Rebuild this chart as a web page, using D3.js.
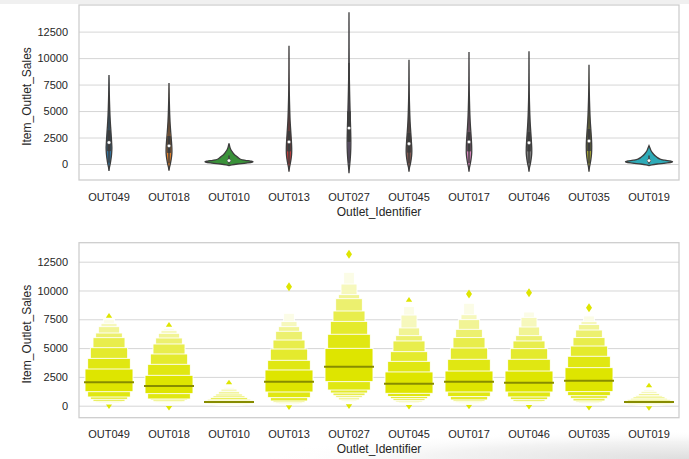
<!DOCTYPE html>
<html>
<head>
<meta charset="utf-8">
<script src="https://cdn.jsdelivr.net/npm/d3@7"></script>
<style>
  body { margin: 0; background: #fff; }
  svg { display: block; font-family: "Liberation Sans", Arial, sans-serif; }
</style>
</head>
<body>
<div id="chart"></div>
<script>
// values
var categories = ["OUT049", "OUT018", "OUT010", "OUT013", "OUT027", "OUT045", "OUT017", "OUT046", "OUT035", "OUT019"];
var yTicks = [0, 2500, 5000, 7500, 10000, 12500];

var medians = [2030, 1712, 320, 2088, 3390, 1914, 2088, 2001, 2174, 320];

// letter values, level 1 (quartiles) first
var lvUpper = [
  [3185, 4110, 5035, 5905, 6310, 6860, 7150, 7526],
  [2637, 3592, 4489, 5357, 5878, 6283, 6543, 6716],
  [440, 555, 700, 845, 1015, 1220, 1450, 1600],
  [3100, 3940, 4920, 5700, 6460, 6860, 7300, 8020],
  [4980, 6200, 7320, 8220, 9290, 9640, 10560, 11580],
  [2930, 3850, 4690, 5620, 6080, 6750, 7870, 8600],
  [3010, 4030, 5010, 5910, 6630, 7470, 7900, 8890],
  [3010, 4030, 4950, 5620, 6080, 6830, 7670, 8130],
  [3300, 4290, 5180, 5910, 6570, 7040, 7320, 7790],
  [420, 520, 640, 760, 870, 1050, 1250, 1420]
];
var lvLower = [
  [1215, 755, 555, 380, 300, 240, 190, 150],
  [1046, 583, 496, 352, 280, 220, 170, 130],
  [200, 150, 110, 80, 60, 45, 40, 35],
  [1190, 700, 410, 300, 220, 160, 120, 90],
  [2088, 1360, 1100, 870, 700, 500, 400, 300],
  [1075, 790, 610, 440, 330, 250, 190, 140],
  [1190, 790, 500, 380, 290, 220, 170, 130],
  [1190, 760, 525, 380, 280, 210, 160, 120],
  [1220, 870, 640, 410, 310, 230, 170, 130],
  [180, 130, 100, 80, 60, 50, 40, 35]
];

var whiskerHi = [6500, 5100, 800, 5970, 9540, 5800, 5900, 5750, 6300, 800];
var dataMin = [111, 69, 33, 35, 100, 63, 92, 63, 40, 33];

var topEnds = [7642, 6861, 1856, null, null, 9030, null, null, null, 1596];
var lowEnds = [120, -20, null, 34, 120, 63, 92, 63, -20, -40];
var outliers = [[], [], [], [10333], [13139], [], [9696], [9812], [8510], []];

// violin outlines: [sales, relative half width]
var violinOUT049 = [[-650, 0], [-300, 0.02], [0, 0.05], [500, 0.085], [1000, 0.11], [1500, 0.12], [2000, 0.11], [2500, 0.097], [3000, 0.083], [3500, 0.068], [4000, 0.053], [5000, 0.033], [6000, 0.019], [7000, 0.01], [8000, 0.004], [8400, 0]];
var violinOUT018 = [[-630, 0], [-300, 0.022], [0, 0.055], [500, 0.095], [1000, 0.12], [1500, 0.12], [2000, 0.107], [2500, 0.09], [3000, 0.072], [3500, 0.056], [4000, 0.042], [5000, 0.024], [6000, 0.012], [7000, 0.005], [7640, 0]];
var violinOUT010 = [[-150, 0], [-80, 0.12], [0, 0.35], [80, 0.7], [170, 0.97], [220, 1.0], [280, 0.9], [350, 0.68], [450, 0.48], [600, 0.38], [750, 0.3], [900, 0.22], [1100, 0.15], [1300, 0.09], [1500, 0.05], [1700, 0.025], [1950, 0]];
var violinOUT013 = [[-730, 0], [-300, 0.022], [0, 0.05], [500, 0.088], [1000, 0.11], [1500, 0.112], [2000, 0.103], [2500, 0.09], [3000, 0.076], [3500, 0.062], [4000, 0.048], [5000, 0.031], [6000, 0.019], [7000, 0.011], [8000, 0.007], [9000, 0.004], [10000, 0.003], [11170, 0]];
var violinOUT027 = [[-880, 0], [-400, 0.015], [0, 0.033], [500, 0.052], [1000, 0.066], [1500, 0.074], [2000, 0.077], [2500, 0.075], [3000, 0.071], [3500, 0.065], [4000, 0.058], [5000, 0.045], [6000, 0.033], [7000, 0.023], [8000, 0.015], [9000, 0.01], [10000, 0.006], [11000, 0.004], [12000, 0.003], [13000, 0.002], [14330, 0]];
var violinOUT045 = [[-730, 0], [-300, 0.023], [0, 0.056], [500, 0.094], [1000, 0.116], [1500, 0.116], [2000, 0.103], [2500, 0.089], [3000, 0.073], [3500, 0.058], [4000, 0.045], [5000, 0.028], [6000, 0.016], [7000, 0.009], [8000, 0.005], [9000, 0.003], [9850, 0]];
var violinOUT017 = [[-730, 0], [-300, 0.022], [0, 0.052], [500, 0.089], [1000, 0.112], [1500, 0.113], [2000, 0.105], [2500, 0.092], [3000, 0.077], [3500, 0.062], [4000, 0.049], [5000, 0.031], [6000, 0.019], [7000, 0.011], [8000, 0.006], [9000, 0.004], [10580, 0]];
var violinOUT046 = [[-730, 0], [-300, 0.023], [0, 0.054], [500, 0.091], [1000, 0.114], [1500, 0.114], [2000, 0.103], [2500, 0.09], [3000, 0.075], [3500, 0.06], [4000, 0.047], [5000, 0.029], [6000, 0.017], [7000, 0.01], [8000, 0.006], [9000, 0.004], [10000, 0.002], [10640, 0]];
var violinOUT035 = [[-730, 0], [-300, 0.02], [0, 0.047], [500, 0.083], [1000, 0.106], [1500, 0.113], [2000, 0.11], [2500, 0.099], [3000, 0.085], [3500, 0.069], [4000, 0.054], [5000, 0.034], [6000, 0.02], [7000, 0.011], [8000, 0.005], [9380, 0]];
var violinOUT019 = [[-150, 0], [-80, 0.12], [0, 0.34], [80, 0.68], [170, 0.95], [230, 0.98], [290, 0.88], [360, 0.66], [460, 0.46], [600, 0.35], [750, 0.27], [900, 0.2], [1100, 0.13], [1300, 0.075], [1500, 0.04], [1730, 0]];

var violins = [violinOUT049, violinOUT018, violinOUT010, violinOUT013, violinOUT027,
  violinOUT045, violinOUT017, violinOUT046, violinOUT035, violinOUT019];

var palette = ["#3274a1", "#e1812c", "#3a923a", "#c03d3e", "#9372b2", "#845b53", "#d684bd", "#7f7f7f", "#a9aa35", "#2eabb8"];
var gray = "#3d3d3d";
var yellow = "#dee500";

var svgWidth = 689;
var svgHeight = 459;

var svg = d3.select("#chart")
  .append("svg")
  .attr("width", svgWidth)
  .attr("height", svgHeight);

// notebook chrome: thin strip on top and a soft shadow bottom right
var defs = svg.append("defs");
var shade = defs.append("radialGradient")
  .attr("id", "shade")
  .attr("cx", "1").attr("cy", "1").attr("r", "1");
shade.append("stop").attr("offset", "0").attr("stop-color", "#dedede");
shade.append("stop").attr("offset", "0.6").attr("stop-color", "#f3f3f3");
shade.append("stop").attr("offset", "1").attr("stop-color", "#fff").attr("stop-opacity", 0);

svg.append("rect")
  .attr("x", 260).attr("y", 430)
  .attr("width", svgWidth - 260).attr("height", svgHeight - 430)
  .attr("fill", "url(#shade)");

svg.append("rect")
  .attr("x", 0).attr("y", 0)
  .attr("width", svgWidth).attr("height", 4)
  .attr("fill", "#f0f0f0");

var left = 79, right = 679;

var xBand = d3.scaleBand()
  .domain(categories)
  .range([left, right])
  .paddingInner(0)
  .paddingOuter(0);

function drawFrame(top, bottom, yScale, tickPad) {
  var g = svg.append("g");

  g.append("g")
    .attr("transform", `translate(${left}, 0)`)
    .call(d3.axisLeft(yScale).tickValues(yTicks).tickFormat(d3.format("d"))
      .tickSize(-(right - left)).tickPadding(11))
    .call(a => a.select(".domain").remove())
    .call(a => a.selectAll(".tick line").attr("stroke", "#d6d6d6").attr("stroke-width", 1))
    .call(a => a.selectAll(".tick text").attr("font-size", 11).attr("fill", "#262626"));

  g.append("g")
    .attr("transform", `translate(0, ${bottom})`)
    .call(d3.axisBottom(xBand).tickSize(0).tickPadding(tickPad))
    .call(a => a.select(".domain").remove())
    .call(a => a.selectAll(".tick text").attr("font-size", 11).attr("fill", "#262626"));

  g.append("rect")
    .attr("x", left).attr("y", top)
    .attr("width", right - left).attr("height", bottom - top)
    .attr("fill", "none")
    .attr("stroke", "#cccccc")
    .attr("stroke-width", 1.25);

  g.append("text")
    .attr("transform", `translate(27, ${(top + bottom) / 2 + 4}) rotate(-90)`)
    .attr("text-anchor", "middle")
    .attr("dy", "0.35em")
    .attr("font-size", 12)
    .attr("fill", "#262626")
    .text("Item_Outlet_Sales");

  g.append("text")
    .attr("x", (left + right) / 2)
    .attr("y", bottom + 35.5)
    .attr("text-anchor", "middle")
    .attr("font-size", 12)
    .attr("fill", "#262626")
    .text("Outlet_Identifier");
}

// ---------- top: violin plot ----------
var yTop = d3.scaleLinear().domain([-1511, 15014]).range([180, 5]);
drawFrame(5, 180, yTop, 13);

var halfW = d3.scaleLinear().domain([0, 1]).range([0, xBand.bandwidth() * 0.4]);

var violinGroup = svg.append("g");

categories.forEach(function(cat, i) {
  var cx = xBand(cat) + xBand.bandwidth() / 2;

  var area = d3.area()
    .curve(d3.curveCatmullRom)
    .x0(d => cx - halfW(Math.max(0, d[1])))
    .x1(d => cx + halfW(Math.max(0, d[1])))
    .y(d => yTop(d[0]));

  violinGroup.append("path")
    .datum(violins[i])
    .attr("d", area)
    .attr("fill", palette[i])
    .attr("stroke", gray)
    .attr("stroke-width", 1.3);

  // whiskers
  violinGroup.append("line")
    .attr("x1", cx).attr("x2", cx)
    .attr("y1", yTop(dataMin[i])).attr("y2", yTop(whiskerHi[i]))
    .attr("stroke", gray)
    .attr("stroke-width", 1.4);

  // quartile box
  violinGroup.append("line")
    .attr("x1", cx).attr("x2", cx)
    .attr("y1", yTop(lvLower[i][0])).attr("y2", yTop(lvUpper[i][0]))
    .attr("stroke", gray)
    .attr("stroke-width", 3.6);

  violinGroup.append("circle")
    .attr("cx", cx)
    .attr("cy", yTop(medians[i]))
    .attr("r", 1.7)
    .attr("fill", "white")
    .attr("stroke", gray)
    .attr("stroke-width", 0.3);
});

// ---------- bottom: boxen plot ----------
var yBot = d3.scaleLinear().domain([-1042, 14149]).range([417.7, 242.7]);
drawFrame(242.7, 417.7, yBot, 13);

var k = lvUpper[0].length;
var boxW = xBand.bandwidth() * 0.8;
var tint = d3.interpolateRgb(yellow, "#fbfce6");
var levelColor = d3.range(k).map(j => tint(Math.pow(j / (k - 1), 1.3)));

var boxenGroup = svg.append("g");

categories.forEach(function(cat, i) {
  var cx = xBand(cat) + xBand.bandwidth() / 2;

  // outlying points
  outliers[i].forEach(function(v) {
    var y = yBot(v);
    boxenGroup.append("path")
      .attr("d", `M${cx},${y - 4.5}L${cx + 3},${y}L${cx},${y + 4.5}L${cx - 3},${y}Z`)
      .attr("fill", yellow);
  });

  if (topEnds[i] !== null) {
    var yt = yBot(topEnds[i]);
    boxenGroup.append("path")
      .attr("d", `M${cx - 3.2},${yt}L${cx},${yt - 4.6}L${cx + 3.2},${yt}Z`)
      .attr("fill", yellow);
  }
  if (lowEnds[i] !== null) {
    var yl = yBot(lowEnds[i]);
    boxenGroup.append("path")
      .attr("d", `M${cx - 3.2},${yl}L${cx},${yl + 4.6}L${cx + 3.2},${yl}Z`)
      .attr("fill", yellow);
  }

  // nested boxes, outermost (narrowest) first
  for (var j = k - 1; j >= 0; j--) {
    var w = boxW * (1 - j / (k + 1));
    boxenGroup.append("rect")
      .attr("x", cx - w / 2)
      .attr("y", yBot(lvUpper[i][j]))
      .attr("width", w)
      .attr("height", yBot(lvLower[i][j]) - yBot(lvUpper[i][j]))
      .attr("fill", levelColor[j])
      .attr("stroke", "white")
      .attr("stroke-width", 0.9);
  }

  boxenGroup.append("line")
    .attr("x1", cx - boxW / 2 - 1).attr("x2", cx + boxW / 2 + 1)
    .attr("y1", yBot(medians[i])).attr("y2", yBot(medians[i]))
    .attr("stroke", "#878c00")
    .attr("stroke-width", 2);
});
</script>
</body>
</html>
